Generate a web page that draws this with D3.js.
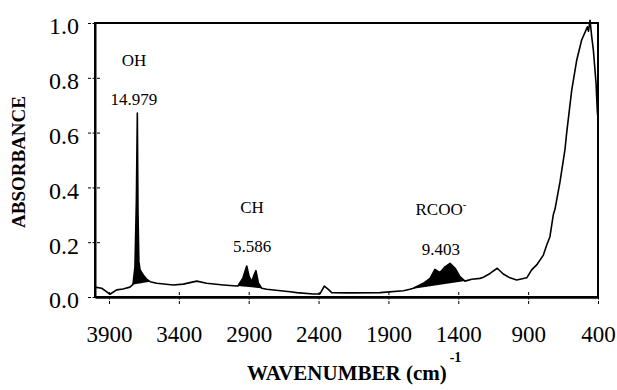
<!DOCTYPE html>
<html>
<head>
<meta charset="utf-8">
<script src="https://cdn.jsdelivr.net/npm/d3@7"></script>
<style>
  body { margin: 0; background: #fff; }
  text { font-family: "Liberation Serif", "Times New Roman", serif; fill: #000; }
</style>
</head>
<body>
<div id="chart"></div>
<script>
// spectrum (wavenumber cm-1, absorbance)
var wavenumber = [4000, 3952, 3928, 3893, 3845, 3800, 3750, 3730, 3726, 3714, 3704, 3697, 3692, 3686, 3678, 3654, 3630, 3606,
  3558, 3440, 3368, 3272, 3201, 3082, 2986, 2977, 2941, 2914, 2897, 2878, 2862, 2848, 2830, 2807, 2771, 2604, 2556, 2438,
  2390, 2375, 2359, 2330, 2306, 2199, 1960, 1793, 1746, 1722, 1650, 1602, 1567, 1531, 1495, 1459, 1423, 1388, 1352, 1304,
  1244, 1220, 1173, 1121, 1078, 1030, 982, 910, 875, 839, 791, 767, 744, 720, 708, 672, 636, 624, 588, 552, 517, 486,
  476, 468, 457, 445, 433, 414, 405, 400];
var absorbance = [0.036, 0.032, 0.023, 0.010, 0.026, 0.029, 0.036, 0.045, 0.056, 0.11, 0.35, 0.671, 0.30, 0.13, 0.10, 0.08, 0.065, 0.056,
  0.05, 0.044, 0.047, 0.058, 0.05, 0.044, 0.04, 0.04, 0.07, 0.113, 0.075, 0.056, 0.08, 0.096, 0.05, 0.032, 0.028, 0.019, 0.016, 0.011,
  0.011, 0.025, 0.04, 0.028, 0.016, 0.015, 0.016, 0.023, 0.028, 0.032, 0.05, 0.068, 0.101, 0.089, 0.11, 0.123, 0.105, 0.074, 0.058, 0.065,
  0.068, 0.072, 0.086, 0.105, 0.084, 0.07, 0.062, 0.07, 0.099, 0.117, 0.153, 0.19, 0.22, 0.30, 0.32, 0.42, 0.54, 0.60, 0.755, 0.865, 0.938, 0.974,
  0.986, 0.97, 1.01, 0.95, 0.90, 0.78, 0.68, 0.65];

// integrated bands (start / end wavenumber), names and areas
var bandNames = ["OH", "CH", "RCOO"];
var bandStart = [3730, 2977, 1746];
var bandEnd = [3606, 2807, 1352];
var bandArea = ["14.979", "5.586", "9.403"];
// where the labels sit (wavenumber, absorbance of name / area)
var labelWn = [3721, 2876, 1524];
var labelNameY = [0.843, 0.307, 0.30];
var labelAreaY = [0.70, 0.164, 0.153];

var xTicks = [3900, 3400, 2900, 2400, 1900, 1400, 900, 400];
var yTicks = [0, 0.2, 0.4, 0.6, 0.8, 1.0];

var data = wavenumber.map(function(w, i) { return {w: w, a: absorbance[i]}; });

var svg = d3.select("#chart").append("svg")
  .attr("width", 617)
  .attr("height", 390);

var x = d3.scaleLinear().domain([4000, 400]).range([95, 598]);
var y = d3.scaleLinear().domain([0, 1]).range([297, 23]);

// shaded band areas, under the curve and above a straight baseline
bandStart.forEach(function(s, i) {
  var e = bandEnd[i];
  var pts = data.filter(function(d) { return d.w <= s && d.w >= e; });
  var a0 = pts[0].a, a1 = pts[pts.length - 1].a;
  var base = d3.scaleLinear().domain([s, e]).range([a0, a1]);
  svg.append("path")
    .datum(pts)
    .attr("fill", "#000")
    .attr("d", d3.area()
      .x(function(d) { return x(d.w); })
      .y0(function(d) { return y(base(d.w)); })
      .y1(function(d) { return y(d.a); }));
});

// spectrum line
svg.append("path")
  .datum(data)
  .attr("fill", "none")
  .attr("stroke", "#000")
  .attr("stroke-width", 1.6)
  .attr("stroke-linejoin", "round")
  .attr("d", d3.line()
    .x(function(d) { return x(d.w); })
    .y(function(d) { return y(d.a); }));

// frame
svg.append("rect")
  .attr("x", 95).attr("y", 23)
  .attr("width", 503).attr("height", 274)
  .attr("fill", "none")
  .attr("stroke", "#000")
  .attr("stroke-width", 2);

// X axis
var gx = svg.append("g")
  .attr("transform", "translate(0,297)")
  .call(d3.axisBottom(x).tickValues(xTicks).tickSizeOuter(0).tickSizeInner(7).tickFormat(d3.format("d")));
gx.select(".domain").attr("stroke-width", 2.5);
gx.selectAll(".tick line").attr("y1", -5).attr("stroke-width", 1).attr("stroke-dasharray", "3,1.5");
gx.selectAll(".tick text")
  .attr("y", 45).attr("dy", 0)
  .style("font-family", "'Liberation Serif', serif")
  .style("font-size", "23px");

// Y axis
var gy = svg.append("g")
  .attr("transform", "translate(95,0)")
  .call(d3.axisLeft(y).tickValues(yTicks).tickSizeOuter(0).tickSizeInner(7).tickFormat(d3.format(".1f")));
gy.select(".domain").attr("stroke-width", 2);
gy.selectAll(".tick line").attr("x1", 5).attr("stroke-width", 1).attr("stroke-dasharray", "3,1.5");
gy.selectAll(".tick text")
  .attr("x", -16).attr("dy", "0.45em")
  .style("font-family", "'Liberation Serif', serif")
  .style("font-size", "24px");

// band labels
bandNames.forEach(function(n, i) {
  var t = svg.append("text")
    .attr("x", x(labelWn[i]))
    .attr("y", y(labelNameY[i]))
    .attr("text-anchor", "middle")
    .style("font-size", "17px")
    .text(n);
  if (n === "RCOO") {
    t.append("tspan").attr("dy", -7).style("font-size", "11px").text("-");
  }
  svg.append("text")
    .attr("x", x(labelWn[i]))
    .attr("y", y(labelAreaY[i]))
    .attr("text-anchor", "middle")
    .style("font-size", "17px")
    .text(bandArea[i]);
});

// Axis titles
var xt = svg.append("text")
  .attr("x", 247)
  .attr("y", 380)
  .style("font-size", "21px")
  .style("font-weight", "bold")
  .text("WAVENUMBER (cm)");
xt.append("tspan")
  .attr("dx", 3)
  .attr("dy", -18)
  .style("font-size", "14px")
  .text("-1");

svg.append("text")
  .attr("transform", "translate(25,162) rotate(-90)")
  .attr("text-anchor", "middle")
  .style("font-size", "19px")
  .style("font-weight", "bold")
  .text("ABSORBANCE");
</script>
</body>
</html>
